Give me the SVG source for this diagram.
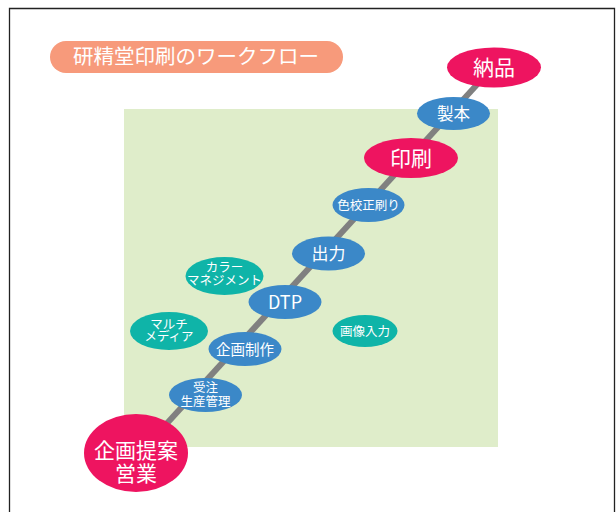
<svg xmlns="http://www.w3.org/2000/svg" width="616" height="512" viewBox="0 0 616 512">
<style>
text{font-family:"Noto Sans CJK JP","Noto Sans",sans-serif;fill:#ffffff;text-anchor:middle}
.pink{fill:#ee1460}
.blue{fill:#3b88c8}
.teal{fill:#0fb4a8}
</style>
<rect width="616" height="512" fill="#ffffff"/>
<path d="M9.5,513 V8.5 H614.5 V513" fill="none" stroke="#222222" stroke-width="1.3"/>
<g id="title">
<rect x="50" y="41" width="293" height="32" rx="16" fill="#f79a7b"/>
<text x="196" y="64" font-size="20.5">研精堂印刷のワークフロー</text>
</g>
<rect id="area" x="124" y="109" width="374" height="338" fill="#dfedca"/>
<g id="connectors">
<line x1="138" y1="455" x2="494" y2="66" stroke="#808080" stroke-width="6"/>
</g>
<g id="n-nouhin"><ellipse class="pink" cx="494" cy="67.5" rx="47" ry="20"/><text x="494" y="75" font-size="21">納品</text></g>
<g id="n-seihon"><ellipse class="blue" cx="453.5" cy="113.5" rx="36.5" ry="16.5"/><text x="453.5" y="119.5" font-size="16.5">製本</text></g>
<g id="n-insatsu"><ellipse class="pink" cx="411" cy="158" rx="47" ry="20"/><text x="411" y="165.5" font-size="21">印刷</text></g>
<g id="n-iroko"><ellipse class="blue" cx="368.5" cy="205" rx="36" ry="17"/><text x="368.5" y="209.5" font-size="12.5">色校正刷り</text></g>
<g id="n-shutsuryoku"><ellipse class="blue" cx="328.5" cy="253.5" rx="36.5" ry="17"/><text x="328.5" y="259.5" font-size="17">出力</text></g>
<g id="n-color"><ellipse class="teal" cx="224.5" cy="276" rx="39" ry="19"/><text font-size="12.5"><tspan x="224.5" y="271.5">カラー</tspan><tspan x="224.5" y="284.5">マネジメント</tspan></text></g>
<g id="n-dtp"><ellipse class="blue" cx="285" cy="302" rx="36.5" ry="17"/><text x="285" y="308.5" font-size="18" font-family="Noto Sans, sans-serif">DTP</text></g>
<g id="n-multi"><ellipse class="teal" cx="169" cy="331" rx="39" ry="19"/><text font-size="12.5"><tspan x="169" y="328.5">マルチ</tspan><tspan x="169" y="341">メディア</tspan></text></g>
<g id="n-gazou"><ellipse class="teal" cx="365" cy="331" rx="32.5" ry="16"/><text x="365" y="335.5" font-size="12.5">画像入力</text></g>
<g id="n-kikakuseisaku"><ellipse class="blue" cx="245" cy="349" rx="36.5" ry="17"/><text x="245" y="354.5" font-size="14.5">企画制作</text></g>
<g id="n-juchu"><ellipse class="blue" cx="205.5" cy="395" rx="36.5" ry="17"/><text font-size="12.5"><tspan x="205.5" y="391.5">受注</tspan><tspan x="205.5" y="406">生産管理</tspan></text></g>
<g id="n-eigyo"><ellipse class="pink" cx="136" cy="453" rx="52" ry="39"/><text font-size="21"><tspan x="136" y="457.5">企画提案</tspan><tspan x="136" y="480.5">営業</tspan></text></g>
</svg>
